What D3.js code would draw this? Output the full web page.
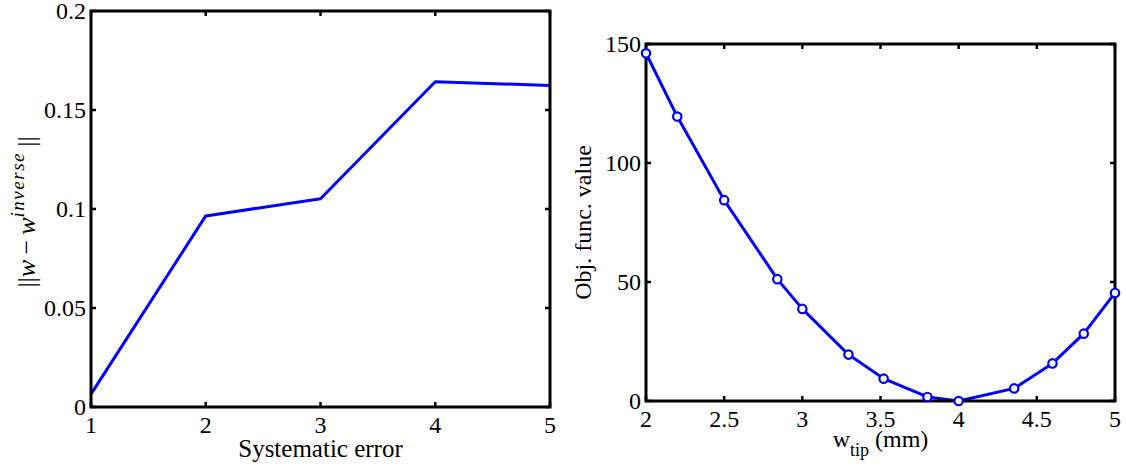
<!DOCTYPE html>
<html>
<head>
<meta charset="utf-8">
<script src="https://cdn.jsdelivr.net/npm/d3@7"></script>
<style>
  html, body { margin: 0; padding: 0; background: #fff; }
  svg { display: block; font-family: "Liberation Serif", "Times New Roman", serif; }
</style>
</head>
<body>
<svg id="chart" width="1126" height="472"></svg>
<script>
// ---- Data: left panel ----
const leftX = [1, 2, 3, 4, 5];
const leftY = [0.0065, 0.0965, 0.1052, 0.1643, 0.1624];
const leftXTicks = [1, 2, 3, 4, 5];
const leftYTicks = [0, 0.05, 0.1, 0.15, 0.2];
const leftYTickLabels = ["0", "0.05", "0.1", "0.15", "0.2"];
const leftXLabel = "Systematic error";

// ---- Data: right panel ----
const rightX = [2.0, 2.2, 2.5, 2.84, 3.0, 3.295, 3.52, 3.8, 4.0, 4.355, 4.6, 4.8, 5.0];
const rightY = [146.1, 119.5, 84.4, 51.2, 38.7, 19.5, 9.4, 1.7, 0.0, 5.3, 15.8, 28.3, 45.4];
const rightXTicks = [2, 2.5, 3, 3.5, 4, 4.5, 5];
const rightXTickLabels = ["2", "2.5", "3", "3.5", "4", "4.5", "5"];
const rightYTicks = [0, 50, 100, 150];
const rightYTickLabels = ["0", "50", "100", "150"];
const rightYLabel = "Obj. func. value";

const svg = d3.select("#chart");
const BLUE = "#0000ff";
const FS = 24;

function panel(cfg) {
  const x = d3.scaleLinear().domain(cfg.xDomain).range([cfg.left, cfg.right]);
  const y = d3.scaleLinear().domain(cfg.yDomain).range([cfg.bottom, cfg.top]);
  const g = svg.append("g");

  // ticks (inward, on all four sides)
  const tl = 5;
  cfg.xTicks.forEach(t => {
    g.append("line").attr("x1", x(t)).attr("x2", x(t)).attr("y1", cfg.bottom).attr("y2", cfg.bottom - tl)
      .attr("stroke", "#000").attr("stroke-width", 2.5);
    g.append("line").attr("x1", x(t)).attr("x2", x(t)).attr("y1", cfg.top).attr("y2", cfg.top + tl)
      .attr("stroke", "#000").attr("stroke-width", 2.5);
  });
  cfg.yTicks.forEach(t => {
    g.append("line").attr("y1", y(t)).attr("y2", y(t)).attr("x1", cfg.left).attr("x2", cfg.left + tl)
      .attr("stroke", "#000").attr("stroke-width", 2.5);
    g.append("line").attr("y1", y(t)).attr("y2", y(t)).attr("x1", cfg.right).attr("x2", cfg.right - tl)
      .attr("stroke", "#000").attr("stroke-width", 2.5);
  });

  // tick labels
  cfg.xTicks.forEach((t, i) => {
    g.append("text").attr("x", x(t)).attr("y", cfg.bottom + 26)
      .attr("text-anchor", "middle").attr("font-size", FS).attr("fill", "#000")
      .text(cfg.xTickLabels[i]);
  });
  cfg.yTicks.forEach((t, i) => {
    g.append("text").attr("x", cfg.left - 5).attr("y", y(t) + 8)
      .attr("text-anchor", "end").attr("font-size", FS).attr("fill", "#000")
      .text(cfg.yTickLabels[i]);
  });

  // data line
  const pts = cfg.xs.map((d, i) => [d, cfg.ys[i]]);
  const line = d3.line().x(d => x(d[0])).y(d => y(d[1]));
  g.append("path").datum(pts).attr("d", line)
    .attr("fill", "none").attr("stroke", BLUE).attr("stroke-width", 3)
    .attr("stroke-linejoin", "round");

  // box
  g.append("rect").attr("x", cfg.left).attr("y", cfg.top)
    .attr("width", cfg.right - cfg.left).attr("height", cfg.bottom - cfg.top)
    .attr("fill", "none").attr("stroke", "#000").attr("stroke-width", 3);

  // markers above box edges
  if (cfg.markers) {
    g.selectAll("circle.m").data(pts).enter().append("circle")
      .attr("class", "m")
      .attr("cx", d => x(d[0])).attr("cy", d => y(d[1])).attr("r", 4.2)
      .attr("fill", "#fff").attr("stroke", BLUE).attr("stroke-width", 2.2);
  }
  return { x, y, g };
}

// Left panel
panel({
  left: 91, right: 550, top: 11, bottom: 407,
  xDomain: [1, 5], yDomain: [0, 0.2],
  xTicks: leftXTicks, xTickLabels: leftXTicks.map(String),
  yTicks: leftYTicks, yTickLabels: leftYTickLabels,
  xs: leftX, ys: leftY, markers: false
});
svg.append("text").attr("x", 320.5).attr("y", 457).attr("text-anchor", "middle")
  .attr("font-size", 25).text(leftXLabel);

// Left y label: ||w − w^inverse||
const yl = svg.append("text")
  .attr("transform", "translate(35,212) rotate(-90)")
  .attr("text-anchor", "middle").attr("font-size", 26);
yl.append("tspan").text("||");
yl.append("tspan").attr("font-style", "italic").text("w");
yl.append("tspan").text("\u2009\u2212\u2009");
yl.append("tspan").attr("font-style", "italic").text("w");
yl.append("tspan").attr("font-style", "italic").attr("font-size", 19)
  .attr("letter-spacing", 1.5).attr("dy", -11).text("inverse");
yl.append("tspan").attr("dy", 11).text("\u2009||");

// Right panel
panel({
  left: 646, right: 1115, top: 44, bottom: 401,
  xDomain: [2, 5], yDomain: [0, 150],
  xTicks: rightXTicks, xTickLabels: rightXTickLabels,
  yTicks: rightYTicks, yTickLabels: rightYTickLabels,
  xs: rightX, ys: rightY, markers: true
});
svg.append("text")
  .attr("transform", "translate(591,222.5) rotate(-90)")
  .attr("text-anchor", "middle").attr("font-size", FS).text(rightYLabel);

const xl = svg.append("text").attr("x", 880.5).attr("y", 447)
  .attr("text-anchor", "middle").attr("font-size", FS);
xl.append("tspan").text("w");
xl.append("tspan").attr("font-size", 18).attr("dy", 9).text("tip");
xl.append("tspan").attr("dy", -9).text(" (mm)");
</script>
</body>
</html>
